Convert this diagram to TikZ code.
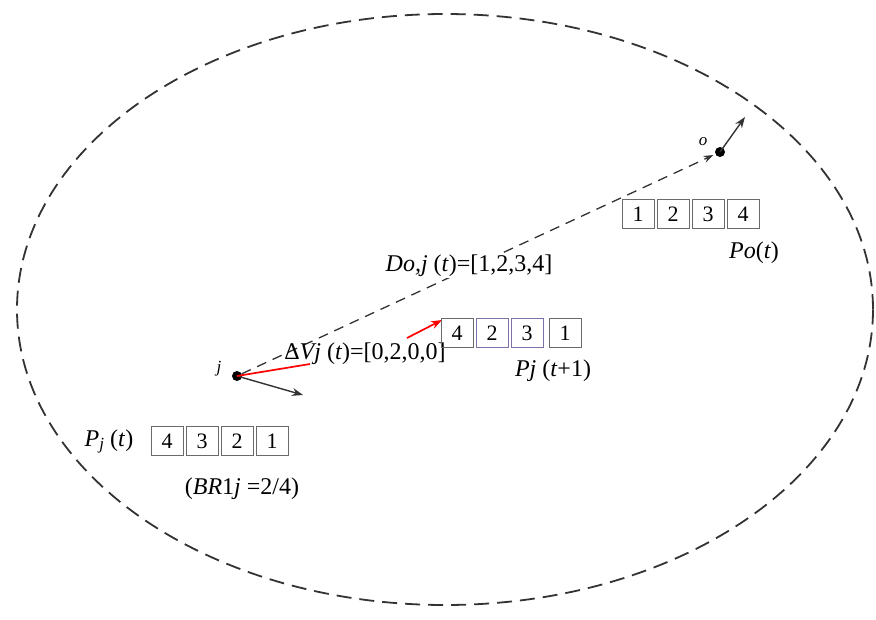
\documentclass[tikz,border=0pt]{standalone}
\usepackage{fontspec}
\setmainfont{Liberation Serif}
\usetikzlibrary{arrows.meta}
\definecolor{linegray}{HTML}{333333}
\definecolor{boxgray}{HTML}{6A6A6A}
\definecolor{boxpurple}{HTML}{8070A8}
\tikzset{
  cell/.style={draw=boxgray, line width=1pt, minimum width=32pt, minimum height=29pt, inner sep=0pt, font=\fontsize{22}{22}\selectfont},
  pcell/.style={cell, draw=boxpurple},
  lbl/.style={inner sep=1pt, font=\fontsize{24}{26}\selectfont},
  dotnode/.style={circle, fill=black, inner sep=0pt, minimum size=10pt},
  arr/.style={draw=linegray, line width=1.4pt, -{Stealth[length=11pt,width=8pt]}},
}
\begin{document}
\begin{tikzpicture}[x=1pt,y=-1pt]
\useasboundingbox (0,0) rectangle (876,619);
% boundary ellipse
\draw[linegray, line width=1.8pt, dash pattern=on 15pt off 8pt] (445,309.5) ellipse [x radius=428, y radius=295.5];
% nodes
\node[dotnode] (j) at (237,376) {};
\node[dotnode] (o) at (720,152) {};
\coordinate (ja) at (303,395);
\coordinate (oa) at (745,117);
\coordinate (r1) at (310,364);
\coordinate (r2) at (407,338);
\coordinate (r3) at (442,320);
% dashed link j -> o
\draw[linegray, line width=1.3pt, dash pattern=on 10pt off 7pt, -{Stealth[length=10pt,width=7pt]}, shorten >=2pt] (j) -- (o);
% movement arrows
\draw[arr] (j.center) -- (ja);
\draw[arr] (o.center) -- (oa);
% red arrow
\draw[red, line width=1.7pt] (j.center) -- (r1);
\draw[red, line width=1.7pt, -{Stealth[length=11pt,width=8pt]}] (r2) -- (r3);
% labels
\node[lbl] (lo) at (703,142) {\fontsize{17}{17}\selectfont\textit{o}};
\node[lbl] (lj) at (219,369) {\fontsize{17}{17}\selectfont\textit{j}};
\node[lbl, fill=white] (ld) at (469,266) {\textit{Do,j} (\textit{t})=[1,2,3,4]};
\node[lbl] (lv) at (365,354) {Δ\textit{Vj} (\textit{t})=[0,2,0,0]};
\node[lbl] (lpo) at (754,253) {\textit{Po}(\textit{t})};
\node[lbl] (lpj1) at (553,371) {\textit{Pj} (\textit{t}+1)};
\node[lbl] (lpj) at (109,441) {\textit{P}\raisebox{-3pt}{\fontsize{17}{17}\selectfont\textit{j}} (\textit{t})};
\node[lbl] (lbr) at (242,489) {(\textit{BR}1\textit{j} =2/4)};
% Po(t) cells
\node[cell] (po1) at (638,214) {1};
\node[cell] (po2) at (673,214) {2};
\node[cell] (po3) at (708,214) {3};
\node[cell] (po4) at (743,214) {4};
% Pj(t+1) cells
\node[cell] (pn1) at (457,333) {4};
\node[pcell] (pn2) at (492,333) {2};
\node[pcell] (pn3) at (527,333) {3};
\node[cell] (pn4) at (565,333) {1};
% Pj(t) cells
\node[cell] (pj1) at (167,441) {4};
\node[cell] (pj2) at (202,441) {3};
\node[cell] (pj3) at (237,441) {2};
\node[cell] (pj4) at (272,441) {1};
\end{tikzpicture}
\end{document}
